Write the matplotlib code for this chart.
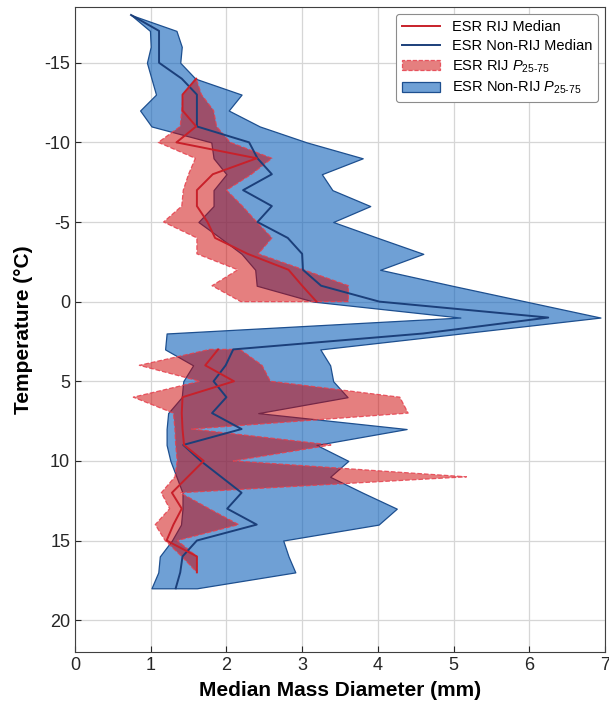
import matplotlib.pyplot as plt
import numpy as np

# temperature levels (deg C), one per 1-degree bin
temp_all = list(range(-18, 19))

# Non-RIJ: 25th percentile, median, 75th percentile of MMD (mm)
blue_p25 = [0.74, 0.99, 1.00, 0.95, 1.01, 1.07, 0.86, 1.01, 1.80, 1.83,
            2.00, 1.83, 1.83, 1.63, 1.92, 2.20, 2.38, 2.40, 3.15, 5.09,
            1.21, 1.19, 1.56, 1.43, 1.41, 1.23, 1.21, 1.21, 1.26, 1.34,
            1.42, 1.42, 1.40, 1.28, 1.12, 1.10, 1.01]
blue_median = [0.74, 1.11, 1.11, 1.11, 1.41, 1.61, 1.61, 1.61, 2.30, 2.41,
               2.60, 2.22, 2.60, 2.41, 2.81, 3.00, 3.01, 3.25, 4.02, 6.25,
               4.60, 2.09, 1.99, 1.83, 2.00, 1.81, 2.20, 1.43, 1.66, 1.93,
               2.20, 2.01, 2.40, 1.61, 1.42, 1.39, 1.33]
blue_p75 = [0.74, 1.34, 1.41, 1.39, 1.59, 2.20, 2.03, 2.44, 3.06, 3.80,
            3.26, 3.40, 3.90, 3.41, 4.00, 4.60, 4.03, 4.98, 5.96, 6.94,
            5.10, 3.24, 3.37, 3.41, 3.60, 2.42, 4.38, 3.19, 3.61, 3.37,
            3.80, 4.25, 4.01, 2.75, 2.82, 2.91, 1.61]

# RIJ: two separate temperature ranges
temp_rij_upper = list(range(-14, 1))
red_up_p25 = [1.60, 1.43, 1.41, 1.39, 1.10, 1.59, 1.50, 1.43, 1.41, 1.17,
              1.61, 1.61, 2.15, 1.81, 2.19]
red_up_median = [1.60, 1.42, 1.42, 1.60, 1.34, 2.40, 1.82, 1.61, 1.61, 1.75,
                 1.85, 2.28, 2.82, 3.00, 3.19]
red_up_p75 = [1.60, 1.67, 1.83, 1.87, 2.05, 2.60, 2.33, 2.00, 2.21, 2.40,
              2.60, 2.42, 3.02, 3.61, 3.61]

temp_rij_lower = list(range(3, 18))
red_lo_p25 = [1.78, 0.85, 1.65, 0.77, 1.30, 1.32, 1.33, 1.35, 1.32, 1.14,
              1.25, 1.06, 1.19, 1.41, 1.61]
red_lo_median = [1.89, 1.72, 2.10, 1.42, 1.41, 1.42, 1.44, 1.70, 1.49, 1.28,
                 1.41, 1.30, 1.21, 1.61, 1.61]
red_lo_p75 = [2.18, 2.47, 2.58, 4.29, 4.40, 1.54, 3.38, 2.09, 5.17, 1.39,
              1.77, 2.16, 1.35, 1.61, 1.61]

plt.rcParams['font.family'] = ['Liberation Sans', 'DejaVu Sans']
plt.rcParams['axes.unicode_minus'] = False
plt.rcParams['mathtext.fontset'] = 'custom'
plt.rcParams['mathtext.it'] = 'Liberation Sans:italic'
plt.rcParams['mathtext.rm'] = 'Liberation Sans'

fig = plt.figure(figsize=(6.09, 7.03), dpi=100)
ax = fig.add_axes([75/609, 1-652/703, 530/609, 645/703])

blue_fill = ax.fill_betweenx(temp_all, blue_p25, blue_p75,
                             facecolor=(0.06, 0.38, 0.73, 0.6),
                             edgecolor='#1d4f8f', linewidth=0.9, zorder=2)

red_face = (0.8, 0.0, 0.0, 0.5)
red_edge = (0.9, 0.25, 0.3, 0.85)
red_fill = ax.fill_betweenx(temp_rij_upper, red_up_p25, red_up_p75,
                            facecolor=red_face, edgecolor=red_edge,
                            linestyle='--', linewidth=0.9, zorder=3)
ax.fill_betweenx(temp_rij_lower, red_lo_p25, red_lo_p75,
                 facecolor=red_face, edgecolor=red_edge,
                 linestyle='--', linewidth=0.9, zorder=3)

blue_line, = ax.plot(blue_median, temp_all, color='#1b3f7a', lw=1.4, zorder=4)
red_line, = ax.plot(red_up_median, temp_rij_upper, color='#c8202a', lw=1.4, zorder=5)
ax.plot(red_lo_median, temp_rij_lower, color='#c8202a', lw=1.4, zorder=5)

ax.set_xlim(0, 7)
ax.set_ylim(22, -18.5)
ax.set_xticks(range(0, 8))
ax.set_yticks([-15, -10, -5, 0, 5, 10, 15, 20])
ax.grid(True, color='#d6d6d6', linewidth=0.9)
ax.set_axisbelow(True)
ax.tick_params(direction='in', length=4, labelsize=13, colors='#262626')
for s in ax.spines.values():
    s.set_color('#404040')
    s.set_linewidth(0.8)

ax.set_xlabel('Median Mass Diameter (mm)', fontsize=15, fontweight='bold', labelpad=5)
ax.set_ylabel('Temperature (°C)', fontsize=15, fontweight='bold', labelpad=8)

leg = ax.legend([red_line, blue_line, red_fill, blue_fill],
                ['ESR RIJ Median', 'ESR Non-RIJ Median',
                 r'ESR RIJ $P_{25\text{-}75}$', r'ESR Non-RIJ $P_{25\text{-}75}$'],
                loc='upper right', fontsize=10.5, handlelength=2.6,
                fancybox=True, framealpha=1, edgecolor='#8c8c8c',
                borderaxespad=0.5, labelspacing=0.35)
leg.get_frame().set_linewidth(0.8)

fig.savefig('out.png', dpi=100)
